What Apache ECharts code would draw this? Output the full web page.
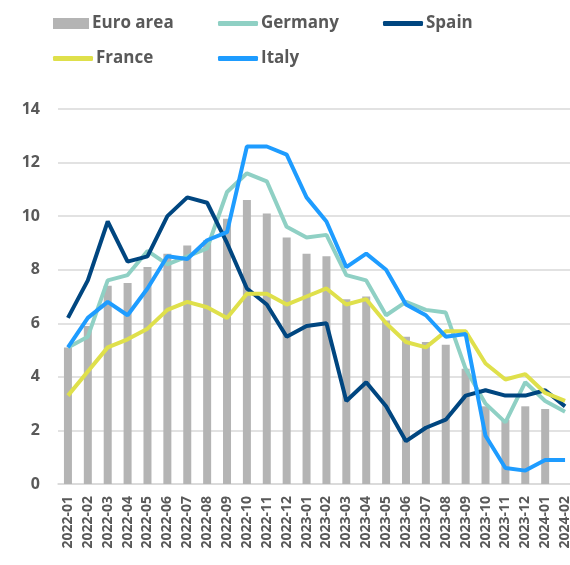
<!DOCTYPE html>
<html>
<head>
<meta charset="utf-8">
<script src="https://cdn.jsdelivr.net/npm/echarts@6/dist/echarts.min.js"></script>
<style>
  html, body { margin: 0; padding: 0; background: #fff; overflow: hidden; }
  #chart { width: 580px; height: 565px; }
</style>
</head>
<body>
<div id="chart"></div>
<script>
var months = ['2022-01', '2022-02', '2022-03', '2022-04', '2022-05', '2022-06', '2022-07', '2022-08', '2022-09', '2022-10', '2022-11', '2022-12',
	'2023-01', '2023-02', '2023-03', '2023-04', '2023-05', '2023-06', '2023-07', '2023-08', '2023-09', '2023-10', '2023-11', '2023-12',
	'2024-01', '2024-02'];
var euroArea = [5.1, 5.9, 7.4, 7.5, 8.1, 8.6, 8.9, 9.1, 9.9, 10.6, 10.1, 9.2, 8.6, 8.5, 6.9, 7.0, 6.1, 5.5, 5.3, 5.2, 4.3, 2.9, 2.4, 2.9, 2.8, null];
var germany = [5.1, 5.5, 7.6, 7.8, 8.7, 8.2, 8.5, 8.8, 10.9, 11.6, 11.3, 9.6, 9.2, 9.3, 7.8, 7.6, 6.3, 6.8, 6.5, 6.4, 4.3, 3.0, 2.3, 3.8, 3.1, 2.7];
var spain = [6.2, 7.6, 9.8, 8.3, 8.5, 10.0, 10.7, 10.5, 9.0, 7.3, 6.7, 5.5, 5.9, 6.0, 3.1, 3.8, 2.9, 1.6, 2.1, 2.4, 3.3, 3.5, 3.3, 3.3, 3.5, 2.9];
var france = [3.3, 4.2, 5.1, 5.4, 5.8, 6.5, 6.8, 6.6, 6.2, 7.1, 7.1, 6.7, 7.0, 7.3, 6.7, 6.9, 6.0, 5.3, 5.1, 5.7, 5.7, 4.5, 3.9, 4.1, 3.4, 3.1];
var italy = [5.1, 6.2, 6.8, 6.3, 7.3, 8.5, 8.4, 9.1, 9.4, 12.6, 12.6, 12.3, 10.7, 9.8, 8.1, 8.6, 8.0, 6.7, 6.3, 5.5, 5.6, 1.8, 0.6, 0.5, 0.9, 0.9];

var textColor = '#595959';
var font = 'Open Sans';

function legendItem(name, left, top, isBar) {
	return {
		data: [name],
		left: left,
		top: top,
		padding: 0,
		icon: isBar ? 'rect' : 'roundRect',
		itemWidth: isBar ? 36 : 40,
		itemHeight: isBar ? 11 : 5,
		itemGap: 0,
		textStyle: { color: textColor, fontSize: 17, fontWeight: 'bold', fontFamily: font, padding: [0, 0, 0, -2] }
	};
}

function lineSeries(name, data, color) {
	return {
		name: name,
		type: 'line',
		data: data,
		symbol: 'none',
		lineStyle: { color: color, width: 4 },
		itemStyle: { color: color }
	};
}

var myChart = echarts.init(document.getElementById('chart'));
var option = {
	animation: false,
	legend: [
		legendItem('Euro area', 53, 15, true),
		legendItem('Germany', 218, 15, false),
		legendItem('Spain', 383, 15, false),
		legendItem('France', 53, 50, false),
		legendItem('Italy', 218, 50, false)
	],
	grid: { left: 58, right: 5, top: 109, bottom: 81, containLabel: false },
	xAxis: {
		type: 'category',
		data: months,
		axisTick: { show: false },
		axisLine: { lineStyle: { color: '#d9d9d9', width: 1.5 } },
		axisLabel: { rotate: 90, interval: 0, color: textColor, fontSize: 14, fontWeight: 'bold', fontFamily: font, margin: 12 }
	},
	yAxis: {
		type: 'value',
		min: 0,
		max: 14,
		interval: 2,
		axisLine: { show: false },
		axisTick: { show: false },
		splitLine: { lineStyle: { color: '#d9d9d9', width: 1.5 } },
		axisLabel: { color: textColor, fontSize: 16, fontWeight: 'bold', fontFamily: font, margin: 18 }
	},
	series: [
		{
			name: 'Euro area',
			type: 'bar',
			data: euroArea,
			barWidth: 8,
			itemStyle: { color: '#b4b4b4' }
		},
		lineSeries('Germany', germany, '#8fd0c4'),
		lineSeries('Spain', spain, '#004680'),
		lineSeries('France', france, '#dfe04b'),
		lineSeries('Italy', italy, '#1e9cff')
	]
};
myChart.setOption(option);
</script>
</body>
</html>
